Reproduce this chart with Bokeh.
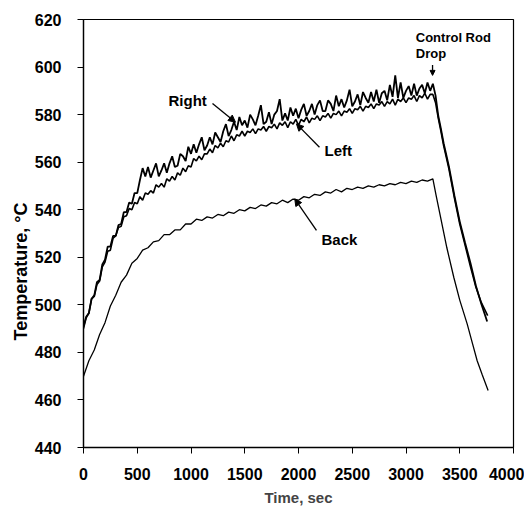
import math
from bokeh.plotting import figure
from bokeh.models import Range1d, FixedTicker, Label, Arrow, NormalHead, Title
from bokeh.embed import file_html
from bokeh.resources import INLINE

# ---------------- data ----------------
right_t = list(range(0, 3275, 25)) + [3275, 3300, 3325, 3350, 3375, 3400, 3450, 3500, 3550, 3600, 3650, 3700, 3755]
right_v = [
    491, 495, 496.5, 502.5, 504, 509.5, 510.5, 517, 519, 524.5, 524.5, 529, 529, 533.5, 534, 539, 539, 543, 542.5, 547, 547,
    552.5, 557.5, 554, 558, 553.5, 556.5, 559.5, 554, 556.5, 559.5, 555.5, 559.5, 562.5, 558, 558.5, 563.5, 562.5, 560.5, 566.5,
    563.5, 567.5, 564, 567.5, 570.5, 565, 567, 570.5, 567.5, 572.5, 570.5, 568.5, 573, 576, 571, 573.5, 577, 573.5, 579, 575.5,
    577.5, 574.5, 580, 578, 575.5, 579.5, 584, 576, 577, 581, 576, 580, 581.5, 586.5, 577.5, 580.5, 577.5, 583, 579.5, 582.5,
    578.5, 582, 584.5, 579.5, 581.5, 584.5, 580, 584, 586, 581.5, 581.5, 586, 584.5, 581.5, 588, 583.5, 586.5, 583, 586, 590.5,
    583.5, 585.5, 588.5, 584, 589.5, 587, 585, 589.5, 585.5, 590.5, 585, 589, 590, 586, 592.5, 587.5, 596.5, 587, 593.5, 587,
    590, 592, 588, 593, 588, 591, 592.5, 589, 593.5, 590, 593,
    588, 579.5, 574, 568, 563, 558, 546, 535, 526, 517.5, 508, 500.5, 493,
]

left_t = list(range(0, 3275, 25)) + [3275, 3300, 3325, 3350, 3375, 3400, 3450, 3500, 3550, 3600, 3650, 3700, 3760]
left_v = [
    490, 494.5, 496.5, 502.5, 503.5, 508.5, 510, 516, 518, 522.5, 523, 528, 529, 532.5, 533, 537, 537.5, 540.5, 540, 543,
    542.5, 545.5, 544, 547, 546.5, 548, 547, 550.5, 549.5, 551, 549.5, 553, 552, 554, 552.5, 555.5, 554.5, 557.5, 556, 558.5,
    558, 561.5, 560.5, 562.5, 561, 563.5, 563.5, 565.5, 564, 567, 566, 568, 566.5, 569, 568.5, 571, 569, 571.5, 571, 573,
    571, 573, 572.5, 574, 572, 574, 573.5, 575, 573, 575, 574.5, 576, 574, 576.5, 575.5, 577, 574.5, 577, 576, 578,
    575.5, 578, 577, 579, 576.5, 578.5, 578, 579.5, 577.5, 579.5, 579, 580.5, 578.5, 580.5, 580, 581.5, 579.5, 581.5, 581, 582.5,
    580.5, 582.5, 582, 583.5, 581.5, 583.5, 583, 584.5, 582.5, 584.5, 584, 585.5, 583.5, 585.5, 584.5, 586.5, 584, 586.5, 585.5, 587,
    585, 587, 586.5, 588, 585.5, 588, 587, 589, 586.5, 588.5, 588.5,
    585, 578.5, 573, 567, 562, 557, 545, 534, 525, 516, 507.5, 501, 495.5,
]

back_t = list(range(0, 3300, 50)) + [3280, 3321, 3380, 3445, 3500, 3569, 3620, 3662, 3710, 3764]
back_v = [
    470, 476.5, 481, 487.5, 492.5, 499.5, 504, 509.5, 512.5, 517.5, 519.5, 523, 524, 526.5, 527, 529.5, 529.5, 531.5, 531.5, 534,
    534, 536, 535.5, 537, 536.5, 538, 537.5, 539, 538.5, 540, 539.5, 541, 540.5, 542, 541.5, 543, 542.5, 544, 543, 544.5,
    544, 545.5, 545, 546.5, 546, 547.5, 547, 548.5, 547.5, 549, 548.5, 549.5, 549, 550, 549.5, 550.5, 550, 551, 550.5, 551.5,
    551, 552, 551.5, 552.5, 552, 553,
    546, 537, 524, 511.5, 502, 492, 483.5, 476.5, 470.5, 464,
]

x_ticks = [0, 500, 1000, 1500, 2000, 2500, 3000, 3500, 4000]
y_ticks = [440, 460, 480, 500, 520, 540, 560, 580, 600, 620]

FONT = "Liberation Sans"

p = figure(width=524, height=509, x_range=Range1d(0, 4000), y_range=Range1d(440, 620),
           output_backend="svg", toolbar_location=None,
           min_border_left=83, min_border_right=11, min_border_top=19, min_border_bottom=62)
p.background_fill_color = "white"
p.border_fill_color = "white"
p.outline_line_color = "black"
p.outline_line_width = 1.2
p.xgrid.visible = False
p.ygrid.visible = False

for ax in (p.xaxis, p.yaxis):
    ax.axis_line_color = "black"
    ax.axis_line_width = 1.3
    ax.major_tick_line_color = "black"
    ax.major_tick_in = 0
    ax.major_tick_out = 6
    ax.minor_tick_line_color = None
    ax.major_label_text_font = FONT
    ax.major_label_text_font_style = "bold"
    ax.major_label_text_font_size = "16px"
    ax.major_label_text_color = "black"

p.xaxis.ticker = FixedTicker(ticks=x_ticks)
p.yaxis.ticker = FixedTicker(ticks=y_ticks)
p.xaxis.major_label_standoff = 14
p.yaxis.major_label_standoff = 16
p.xaxis.axis_label = "Time, sec"
p.xaxis.axis_label_text_font = FONT
p.xaxis.axis_label_text_font_style = "bold"
p.xaxis.axis_label_text_font_size = "15px"
p.xaxis.axis_label_standoff = 6

p.add_layout(Title(text="Temperature, \u00b0C", align="left", offset=107,
                   text_font=FONT, text_font_style="bold", text_font_size="18px",
                   text_color="black", standoff=2), "left")

p.line(right_t, right_v, line_color="black", line_width=1.8)
p.line(left_t, left_v, line_color="black", line_width=1.6)
p.line(back_t, back_v, line_color="black", line_width=1.3)

def note(x, y, txt, size="15px"):
    p.add_layout(Label(x=x, y=y, text=txt, text_align="left", text_baseline="middle",
                       text_font=FONT, text_font_style="bold", text_font_size=size,
                       text_color="black"))

def arrow(x0, y0, x1, y1, size=7):
    p.add_layout(Arrow(x_start=x0, y_start=y0, x_end=x1, y_end=y1, line_color="black", line_width=1.3,
                       end=NormalHead(size=size, fill_color="black", line_color="black")))

note(791, 586, "Right")
arrow(1200, 584.7, 1414, 576.8)
note(2242, 564.9, "Left")
arrow(2195, 566.3, 1981, 576.1)
note(2214, 527.5, "Back")
arrow(2167, 531.3, 1965, 544.6)
note(3091, 612.6, "Control Rod", "13px")
note(3091, 605.6, "Drop", "13px")
arrow(3247, 600.9, 3247, 596.5, size=5)

open("out.html", "w").write(file_html(p, INLINE))
